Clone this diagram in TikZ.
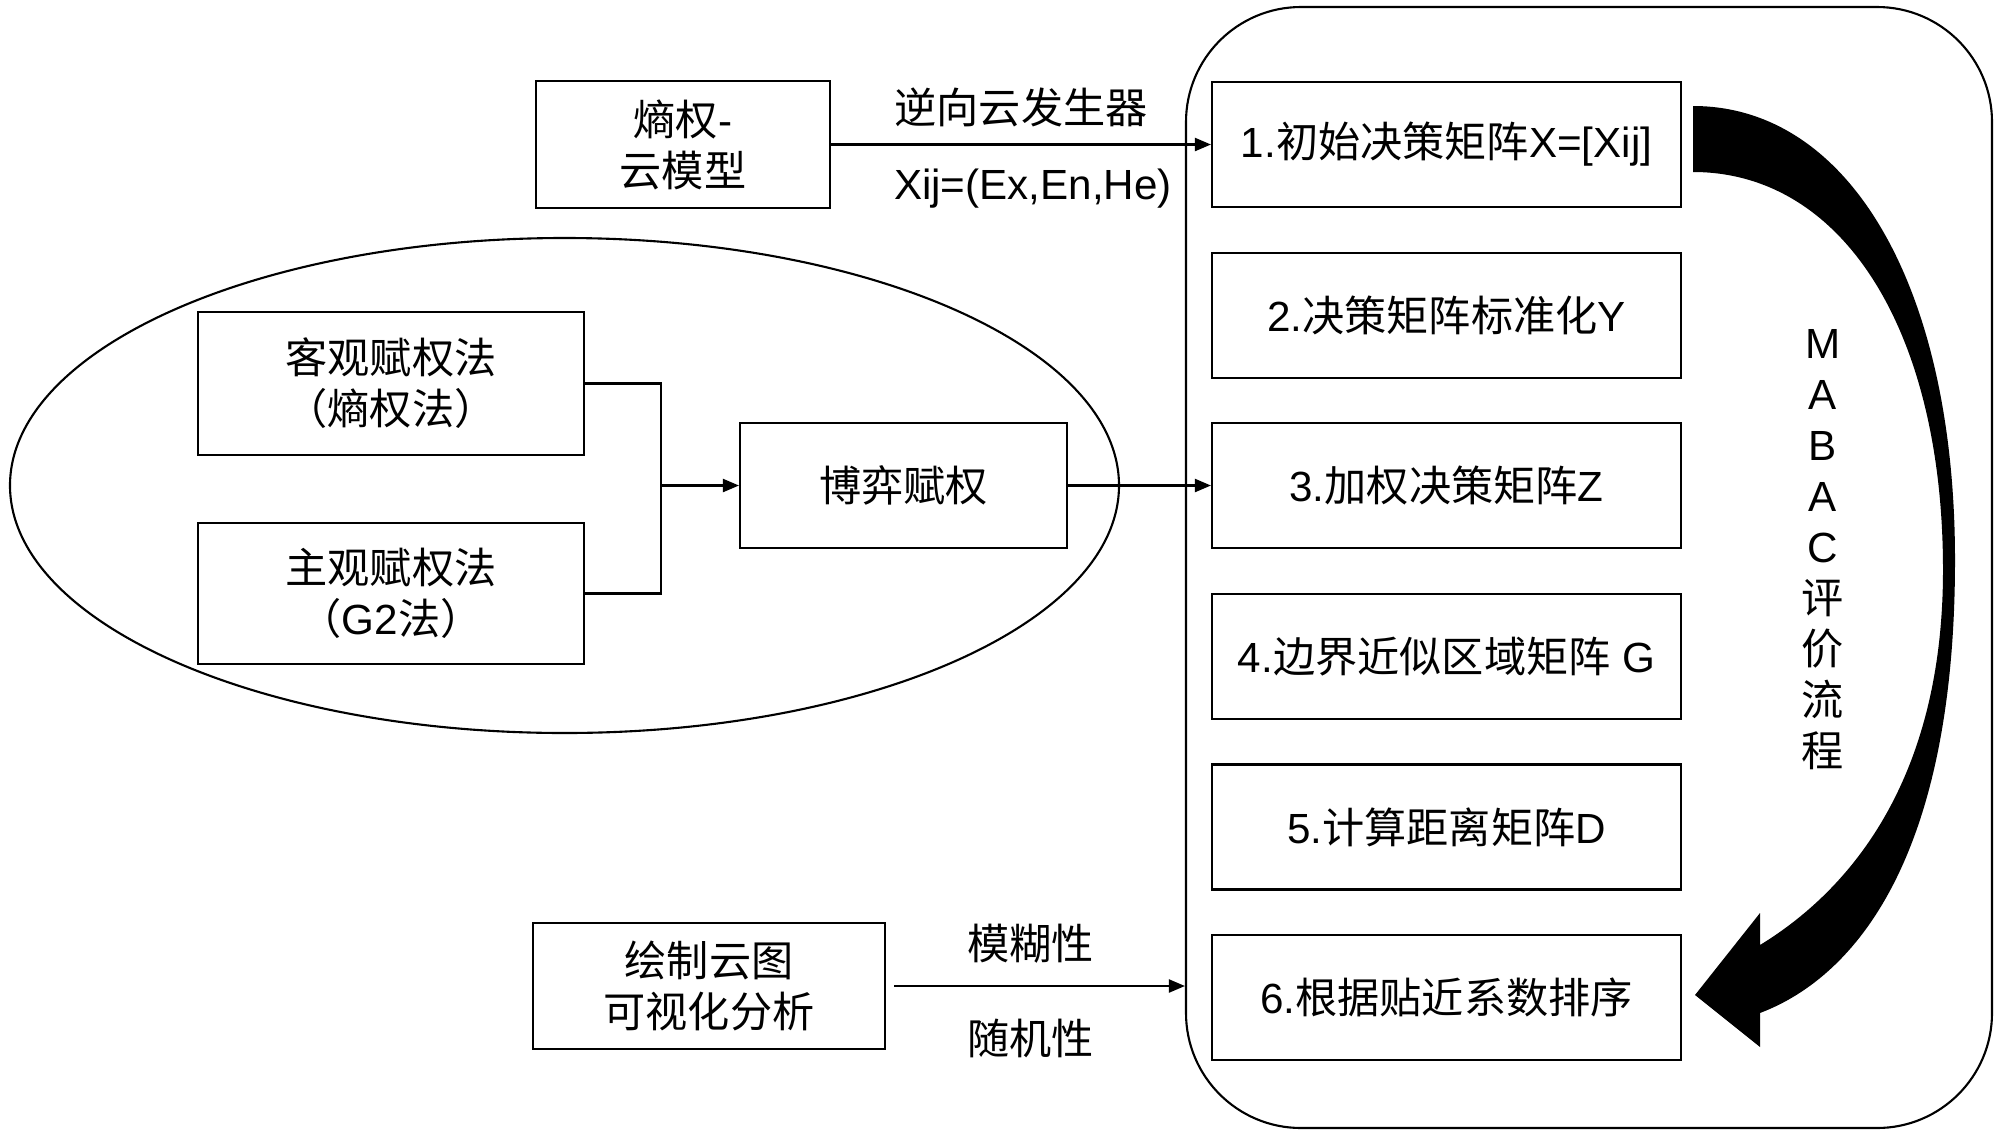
\documentclass[tikz,border=0pt]{standalone}
\usepackage{fontspec}
\setmainfont{Liberation Sans}
\newfontfamily\cjkfont{Noto Sans CJK SC}
\usetikzlibrary{positioning,arrows.meta,shapes.geometric}

% Chinese characters switch to the CJK font by themselves
\XeTeXinterchartokenstate=1
\newXeTeXintercharclass\cjkclass
\newcount\cjkcnt
\cjkcnt="4E00
\loop
	\XeTeXcharclass\cjkcnt=\cjkclass
	\advance\cjkcnt by 1
\ifnum\cjkcnt<"A000 \repeat
\XeTeXcharclass"FF08=\cjkclass
\XeTeXcharclass"FF09=\cjkclass
\XeTeXinterchartoks 0 \cjkclass={\cjkfont}
\XeTeXinterchartoks 4095 \cjkclass={\cjkfont}
\XeTeXinterchartoks \cjkclass 0={\rmfamily}
\XeTeXinterchartoks \cjkclass 4095={\rmfamily}

\begin{document}
\begin{tikzpicture}[
	font=\fontsize{12pt}{14.5pt}\selectfont,
	>={Triangle[length=1.6mm,width=1.3mm]},
	mbox/.style={draw, line width=0.6pt, minimum width=4.69cm,
		minimum height=1.25cm, inner sep=0pt},
	wbox/.style={draw, line width=0.6pt, align=center, inner sep=0pt},
	flow/.style={->, line width=0.6pt},
	lbl/.style={inner sep=0pt},
]
\useasboundingbox (0,0) rectangle (20,-11.37);

% ---- MABAC steps ----
\node[mbox] (s1) at (14.465,-1.445) {1.初始决策矩阵X=[Xij]};
\node[mbox, below=4.35mm of s1] (s2) {2.决策矩阵标准化Y};
\node[mbox, below=4.35mm of s2] (s3) {3.加权决策矩阵Z};
\node[mbox, below=4.35mm of s3] (s4) {4.边界近似区域矩阵 G};
\node[mbox, below=4.35mm of s4] (s5) {5.计算距离矩阵D};
\node[mbox, below=4.35mm of s5] (s6) {6.根据贴近系数排序};

\node[draw, line width=0.6pt, rounded corners=11.5mm, minimum width=8.06cm,
	minimum height=11.21cm] (frame) at (15.89,-5.675) {};

\node[align=center, inner sep=0pt] (mabac) at (18.23,-5.495)
	{M\\A\\B\\A\\C\\评\\价\\流\\程};

% block arrow from step 1 down to step 6
\fill (16.93,-1.06) .. controls (18.50,-1.06) and (19.55,-2.88) .. (19.55,-5.60)
	.. controls (19.55,-8.50) and (18.60,-9.75) .. (17.60,-10.13)
	-- (17.60,-10.47) -- (16.95,-9.95) -- (17.60,-9.13) -- (17.60,-9.45)
	.. controls (18.50,-8.90) and (19.43,-7.80) .. (19.43,-5.70)
	.. controls (19.43,-3.31) and (18.43,-1.72) .. (16.93,-1.72) -- cycle;

% ---- combined weighting ----
\node[draw, ellipse, line width=0.6pt, minimum width=11.09cm,
	minimum height=4.95cm, inner sep=0pt] (grp) at (5.645,-4.855) {};
\node[wbox, minimum width=3.86cm, minimum height=1.43cm] (obj) at (3.91,-3.835)
	{客观赋权法\\（熵权法）};
\node[wbox, minimum width=3.86cm, minimum height=1.41cm] (subj) at (3.91,-5.935)
	{主观赋权法\\（G2法）};
\node[wbox, minimum width=3.27cm, minimum height=1.25cm] (game) at (9.035,-4.855)
	{博弈赋权};

\coordinate (jn) at (6.61,-4.855);
\draw[line width=0.6pt] (obj.east) -| (jn) |- (subj.east);
\draw[flow] (jn) -- (game);
\draw[flow] (game) -- (game -| s3.west);

% ---- cloud model input ----
\node[wbox, minimum width=2.94cm, minimum height=1.27cm] (cloud) at (6.83,-1.445)
	{熵权-\\云模型};
\draw[flow] (cloud) -- node[lbl, above=1.6mm] {逆向云发生器}
	node[lbl, below=2.3mm, xshift=1.2mm] {Xij=(Ex,En,He)} (s1);

% ---- cloud chart output ----
\node[wbox, minimum width=3.52cm, minimum height=1.26cm] (viz) at (7.09,-9.86)
	{绘制云图\\可视化分析};
\draw[flow, shorten <=0.8mm] (viz) -- node[lbl, above=2.2mm, xshift=-0.5mm] {模糊性}
	node[lbl, below=3.2mm, xshift=-0.5mm] {随机性} (viz -| frame.west);

\end{tikzpicture}
\end{document}
